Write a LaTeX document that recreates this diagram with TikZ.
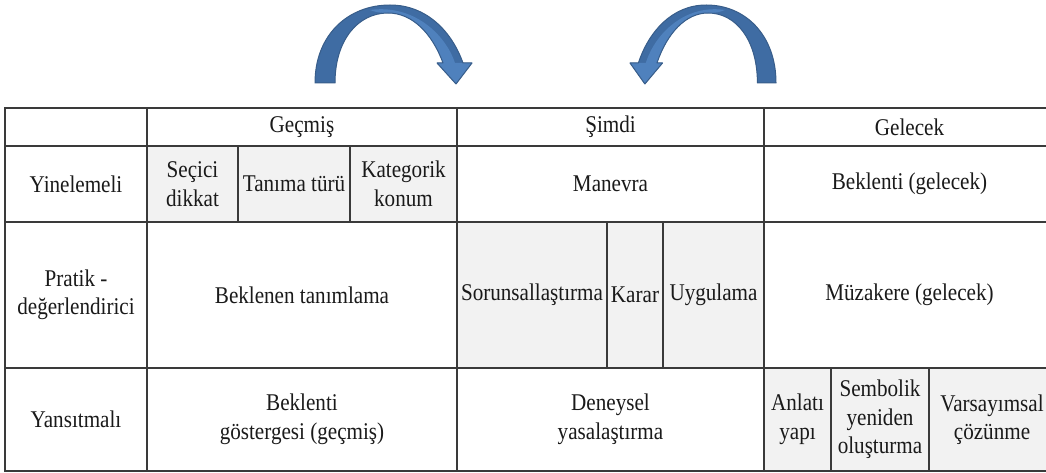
\documentclass[tikz,border=0pt]{standalone}
\usepackage{fontspec}
\setmainfont{Liberation Serif}[FakeStretch=0.88]
\usetikzlibrary{positioning}
\definecolor{ink}       {HTML}{1A1A1A}
\definecolor{gridline}  {HTML}{3A3A3A}
\definecolor{cellgrey}  {HTML}{F2F2F2}
\definecolor{arrowlight}{HTML}{4F81BD}
\definecolor{arrowdark} {HTML}{3F6CA3}
\definecolor{arrowedge} {HTML}{385D8A}
\tikzset{
  every node/.style={font=\fontsize{24}{28.5}\selectfont, text=ink},
  % --- cells
  cell/.style     = {draw=gridline, line width=1.3pt, fill=white, align=center, inner sep=1pt},
  greycell/.style = {cell, fill=cellgrey},
  % --- bent arrows
  bentfill/.style  = {fill=arrowdark},
  bentlight/.style = {fill=arrowlight},
  bentedge/.style  = {draw=arrowedge, line width=1pt, line join=round},
}

\begin{document}
\begin{tikzpicture}[x=1pt, y=-1pt]
  \clip (0,0) rectangle (1046,473);

  % table: name/style/x0/x1/y0/y1/text
  \foreach \nm/\st/\xa/\xb/\ya/\yb/\txt in {
      h0/cell/5/147/108/146/{},
      hpast/cell/147/457/108/146/{Geçmiş},
      hnow/cell/457/764/108/146/{Şimdi},
      hfut/cell/764/1055/108/146/{Gelecek},
      r1a/cell/5/147/146/222/{Yinelemeli},
      r1b/greycell/147/238/146/222/{Seçici\\dikkat},
      r1c/greycell/238/350/146/222/{Tanıma türü},
      r1d/greycell/350/457/146/222/{Kategorik\\konum},
      r1e/cell/457/764/146/222/{Manevra},
      r1f/cell/764/1055/146/222/{Beklenti (gelecek)},
      r2a/cell/5/147/222/368/{Pratik -\\değerlendirici},
      r2b/cell/147/457/222/368/{Beklenen tanımlama},
      r2c/greycell/457/607/222/368/{Sorunsallaştırma},
      r2d/greycell/607/663/222/368/{Karar},
      r2e/greycell/663/764/222/368/{Uygulama},
      r2f/cell/764/1055/222/368/{Müzakere (gelecek)},
      r3a/cell/5/147/368/471/{Yansıtmalı},
      r3b/cell/147/457/368/471/{Beklenti\\göstergesi (geçmiş)},
      r3c/cell/457/764/368/471/{Deneysel\\yasalaştırma},
      r3d/greycell/764/831/368/471/{Anlatı\\yapı},
      r3e/greycell/831/929/368/471/{Sembolik\\yeniden\\oluşturma},
      r3f/greycell/929/1055/368/471/{Varsayımsal\\çözünme}}
    \node[\st, minimum width={\xb-\xa}, minimum height={\yb-\ya}] (\nm)
      at ({(\xa+\xb)/2},{(\ya+\yb)/2}) {\txt};

  % bent arrows above the table
  \foreach \sx/\sc in {315/1, 776/-0.93} {
    \begin{scope}[shift={(\sx,83)}, xscale=\sc]
      \fill[bentfill] (0,0) .. controls (0,-48) and (33,-78) .. (75,-78)
        .. controls (112,-78) and (137,-51) .. (148,-20) -- (157,-20) -- (141,1)
        -- (122,-20) -- (128,-20) .. controls (117,-50) and (97,-70) .. (73,-70)
        .. controls (43,-70) and (20,-43) .. (20,0) -- cycle;
      \fill[bentlight] (55,-73) .. controls (97,-79) and (130,-50) .. (140,-20)
        -- (157,-20) -- (141,1) -- (122,-20) -- (128,-20)
        .. controls (117,-50) and (97,-70) .. (73,-70)
        .. controls (65,-70) and (60,-71) .. (55,-73) -- cycle;
      \draw[bentedge] (0,0) .. controls (0,-48) and (33,-78) .. (75,-78)
        .. controls (112,-78) and (137,-51) .. (148,-20) -- (157,-20) -- (141,1)
        -- (122,-20) -- (128,-20) .. controls (117,-50) and (97,-70) .. (73,-70)
        .. controls (43,-70) and (20,-43) .. (20,0) -- cycle;
    \end{scope}
  }
\end{tikzpicture}
\end{document}
